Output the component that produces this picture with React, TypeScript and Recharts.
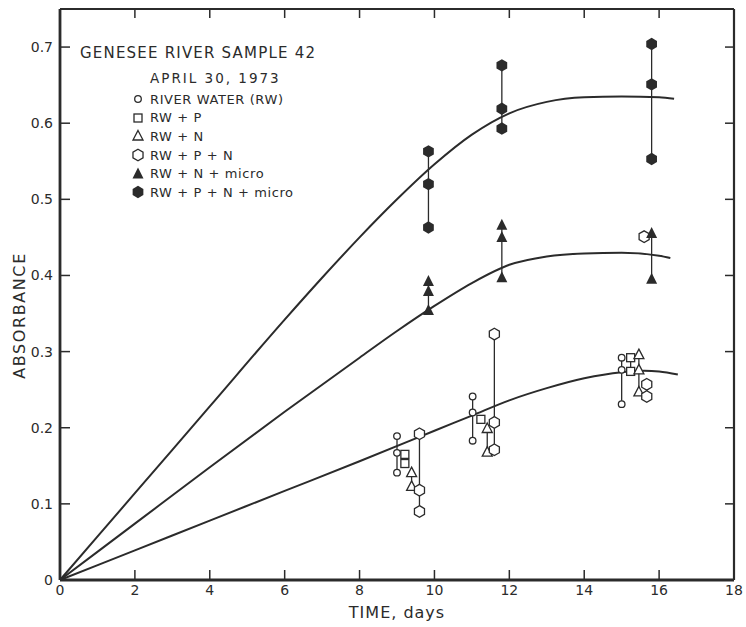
import { ComposedChart, Line, ReferenceLine, Scatter, XAxis, YAxis } from "recharts";

const ink = "#2b2b2b";
const font = "'DejaVu Sans', sans-serif";

const W = 746;
const H = 627;
const margin = { top: 9, right: 12, bottom: 2, left: 10 };
const yAxisWidth = 50;
const xAxisHeight = 45;
const plot = {
  left: margin.left + yAxisWidth,
  right: W - margin.right,
  top: margin.top,
  bottom: H - margin.bottom - xAxisHeight,
};

const xMax = 18;
const yMax = 0.75;
const xTicks = [0, 2, 4, 6, 8, 10, 12, 14, 16, 18];
const yTicks = [0, 0.1, 0.2, 0.3, 0.4, 0.5, 0.6, 0.7];

// the three hand-drawn curves
const upperDays = [0, 2, 4, 6, 7, 8, 9, 10, 11, 12, 13, 14, 15, 16, 16.4];
const upperAbs = [0, 0.114, 0.228, 0.342, 0.397, 0.45, 0.5, 0.546, 0.585, 0.613, 0.628, 0.634, 0.635, 0.634, 0.632];
const middleDays = [0, 2, 4, 6, 8, 9, 10, 11, 12, 13, 14, 15, 16, 16.3];
const middleAbs = [0, 0.074, 0.148, 0.221, 0.292, 0.327, 0.36, 0.39, 0.414, 0.425, 0.429, 0.43, 0.426, 0.423];
const lowerDays = [0, 2, 4, 6, 8, 10, 11, 12, 13, 14, 15, 15.6, 16, 16.5];
const lowerAbs = [0, 0.039, 0.078, 0.117, 0.156, 0.196, 0.216, 0.236, 0.252, 0.265, 0.273, 0.275, 0.274, 0.27];

// replicate readings, one inner list per sampling day
const rwDays = [9.0, 11.02, 15.0];
const rwAbs = [[0.189, 0.167, 0.141], [0.241, 0.22, 0.183], [0.292, 0.276, 0.231]];
const rwpDays = [9.21, 11.24, 15.24];
const rwpAbs = [[0.165, 0.153], [0.211], [0.292, 0.274]];
const rwnDays = [9.39, 11.41, 15.46];
const rwnAbs = [[0.141, 0.123], [0.199, 0.168], [0.296, 0.276, 0.247]];
const rwpnDays = [9.6, 11.6, 15.6, 15.67];
const rwpnAbs = [[0.192, 0.118, 0.09], [0.323, 0.207, 0.171], [0.451], [0.257, 0.241]];
const rwnMicroDays = [9.84, 11.8, 15.8];
const rwnMicroAbs = [[0.392, 0.379, 0.354], [0.466, 0.45, 0.397], [0.455, 0.395]];
const rwpnMicroDays = [9.84, 11.8, 15.8];
const rwpnMicroAbs = [[0.563, 0.52, 0.463], [0.676, 0.619, 0.593], [0.704, 0.651, 0.553]];

const hexPoints = (cx: number, cy: number, r: number) =>
  [-90, -30, 30, 90, 150, 210]
    .map((a) => `${cx + r * Math.cos((a * Math.PI) / 180)},${cy + r * Math.sin((a * Math.PI) / 180)}`)
    .join(" ");

const SmallCircle = ({ cx, cy }: any) => (
  <circle cx={cx} cy={cy} r={3.3} fill="#fff" stroke={ink} strokeWidth={1.3} />
);
const OpenSquare = ({ cx, cy }: any) => (
  <rect x={cx - 4} y={cy - 4} width={8} height={8} fill="#fff" stroke={ink} strokeWidth={1.3} />
);
const OpenTriangle = ({ cx, cy }: any) => (
  <polygon
    points={`${cx},${cy - 5.5} ${cx + 5},${cy + 4} ${cx - 5},${cy + 4}`}
    fill="#fff"
    stroke={ink}
    strokeWidth={1.3}
  />
);
const OpenHex = ({ cx, cy }: any) => (
  <polygon points={hexPoints(cx, cy, 5.8)} fill="#fff" stroke={ink} strokeWidth={1.3} />
);
const FilledTriangle = ({ cx, cy }: any) => (
  <polygon points={`${cx},${cy - 6.5} ${cx + 5.5},${cy + 4.5} ${cx - 5.5},${cy + 4.5}`} fill={ink} />
);
const FilledHex = ({ cx, cy }: any) => <polygon points={hexPoints(cx, cy, 6.2)} fill={ink} />;

const treatments = [
  { name: "RIVER WATER (RW)", days: rwDays, abs: rwAbs, shape: SmallCircle },
  { name: "RW + P", days: rwpDays, abs: rwpAbs, shape: OpenSquare },
  { name: "RW + N", days: rwnDays, abs: rwnAbs, shape: OpenTriangle },
  { name: "RW + P + N", days: rwpnDays, abs: rwpnAbs, shape: OpenHex },
  { name: "RW + N + micro", days: rwnMicroDays, abs: rwnMicroAbs, shape: FilledTriangle },
  { name: "RW + P + N + micro", days: rwpnMicroDays, abs: rwpnMicroAbs, shape: FilledHex },
];

const toPoints = (xs: number[], ys: number[]) => xs.map((x, i) => ({ x, y: ys[i] }));
const curves = [toPoints(upperDays, upperAbs), toPoints(middleDays, middleAbs), toPoints(lowerDays, lowerAbs)];

const tickFont = { fontFamily: font, fontSize: 14, fill: ink };

// inward tick marks on the top and right sides of the frame (overlay, same layout as the chart)
function FrameTicks() {
  const px = (t: number) => plot.left + (t / xMax) * (plot.right - plot.left);
  const py = (v: number) => plot.bottom - (v / yMax) * (plot.bottom - plot.top);
  return (
    <svg
      width={W}
      height={H}
      style={{ position: "absolute", left: 0, top: 0, pointerEvents: "none" }}
    >
      {xTicks.slice(1, -1).map((t) => (
        <line key={`t${t}`} x1={px(t)} x2={px(t)} y1={plot.top} y2={plot.top + 9} stroke={ink} strokeWidth={1.5} />
      ))}
      {yTicks.slice(1).map((v) => (
        <line key={`r${v}`} x1={plot.right - 9} x2={plot.right} y1={py(v)} y2={py(v)} stroke={ink} strokeWidth={1.5} />
      ))}
    </svg>
  );
}

function LegendBlock() {
  return (
    <div style={{ position: "absolute", left: 80, top: 43, fontFamily: font, color: ink }}>
      <div style={{ fontSize: 15, letterSpacing: 1.2, lineHeight: "20px" }}>GENESEE RIVER SAMPLE 42</div>
      <div style={{ fontSize: 13.5, letterSpacing: 2, lineHeight: "20px", marginLeft: 70, marginTop: 5 }}>
        APRIL 30, 1973
      </div>
      <div style={{ marginLeft: 51, marginTop: 2 }}>
        {treatments.map((t) => {
          const Shape = t.shape;
          return (
            <div key={t.name} style={{ display: "flex", alignItems: "center", height: 18.6 }}>
              <svg width={14} height={14} style={{ marginRight: 5 }}>
                <Shape cx={7} cy={7} />
              </svg>
              <span style={{ fontSize: 13, letterSpacing: 0.6 }}>{t.name}</span>
            </div>
          );
        })}
      </div>
    </div>
  );
}

export default function App() {
  return (
    <div style={{ position: "absolute", left: 0, top: 0, width: W, height: H, background: "#fff" }}>
      <ComposedChart width={W} height={H} margin={margin}>
        <XAxis
          type="number"
          dataKey="x"
          domain={[0, xMax]}
          ticks={xTicks}
          interval={0}
          height={xAxisHeight}
          tickSize={-10}
          tickMargin={15}
          tick={tickFont}
          axisLine={{ stroke: ink, strokeWidth: 2.8 }}
          tickLine={{ stroke: ink, strokeWidth: 1.5 }}
          label={{
            content: ({ viewBox }: any) => (
              <text
                x={viewBox.x + viewBox.width / 2}
                y={viewBox.y + 38}
                textAnchor="middle"
                fontFamily={font}
                fontSize={16}
                letterSpacing={1}
                fill={ink}
              >
                TIME, days
              </text>
            ),
          }}
        />
        <YAxis
          type="number"
          domain={[0, yMax]}
          ticks={yTicks}
          interval={0}
          width={yAxisWidth}
          tickSize={-10}
          tickMargin={17}
          tick={tickFont}
          tickFormatter={(v) => (v === 0 ? "0" : v.toFixed(1))}
          axisLine={{ stroke: ink, strokeWidth: 2.8 }}
          tickLine={{ stroke: ink, strokeWidth: 1.5 }}
          label={{
            content: ({ viewBox }: any) => {
              const x = viewBox.x + 9;
              const y = viewBox.y + viewBox.height / 2 + 21;
              return (
                <text
                  x={x}
                  y={y}
                  transform={`rotate(-90 ${x} ${y})`}
                  textAnchor="middle"
                  dominantBaseline="central"
                  fontFamily={font}
                  fontSize={16}
                  letterSpacing={1.6}
                  fill={ink}
                >
                  ABSORBANCE
                </text>
              );
            },
          }}
        />
        {/* top and right sides of the frame */}
        <ReferenceLine y={yMax} stroke={ink} strokeWidth={2.2} />
        <ReferenceLine x={xMax} stroke={ink} strokeWidth={2.2} />
        {curves.map((c, i) => (
          <Line
            key={`curve-${i}`}
            data={c}
            dataKey="y"
            type="monotone"
            stroke={ink}
            strokeWidth={2}
            dot={false}
            isAnimationActive={false}
          />
        ))}
        {treatments.flatMap((t) =>
          t.days.map((d, gi) => (
            <Scatter
              key={`${t.name}-${gi}`}
              data={[...t.abs[gi]].sort((a, b) => b - a).map((y) => ({ x: d, y }))}
              dataKey="y"
              shape={t.shape}
              line={{ stroke: ink, strokeWidth: 1.3 }}
              isAnimationActive={false}
            />
          ))
        )}
      </ComposedChart>
      <FrameTicks />
      <LegendBlock />
    </div>
  );
}
